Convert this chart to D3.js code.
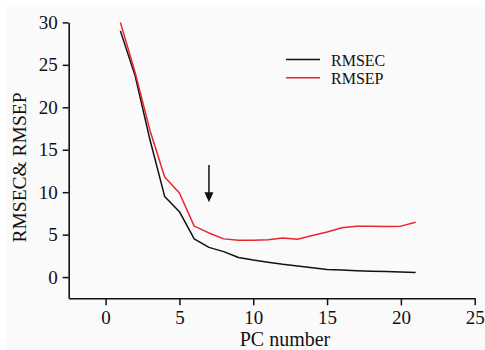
<!DOCTYPE html>
<html>
<head>
<meta charset="utf-8">
<script src="https://cdn.jsdelivr.net/npm/d3@7"></script>
<style>
  html, body { margin: 0; padding: 0; background: #ffffff; }
  svg { display: block; }
  svg text { font-family: "Liberation Serif", "Times New Roman", serif; fill: #111; }
</style>
</head>
<body>
<svg id="chart" width="485" height="350"></svg>
<script>
// Number of principal components
const pcNumbers = [1, 2, 3, 4, 5, 6, 7, 8, 9, 10, 11, 12, 13, 14, 15, 16, 17, 18, 19, 20, 21];
// Calibration error
const rmsec = [29.0, 23.7, 16.2, 9.5, 7.7, 4.5, 3.5, 3.0, 2.3, 2.0, 1.75, 1.5, 1.3, 1.1, 0.9, 0.82, 0.75, 0.7, 0.65, 0.6, 0.55];
// Prediction error
const rmsep = [30.0, 24.1, 17.3, 11.8, 9.9, 6.0, 5.2, 4.5, 4.35, 4.35, 4.4, 4.6, 4.45, 4.9, 5.3, 5.8, 6.0, 6.0, 5.95, 6.0, 6.45];

const xTicks = [0, 5, 10, 15, 20, 25];
const yTicks = [0, 5, 10, 15, 20, 25, 30];
const seriesNames = ["RMSEC", "RMSEP"];
const seriesColors = ["#111111", "#e8262b"];
// Arrow pointing at the chosen number of components
const arrowPc = 7;
const arrowFrom = 13.2;
const arrowTo = 8.8;

const serif = "Liberation Serif, Times New Roman, serif";
const svg = d3.select("#chart");

// Panel background
svg.append("rect")
  .attr("x", 6).attr("y", 7)
  .attr("width", 479).attr("height", 343)
  .attr("fill", "#fafafa");

const x = d3.scaleLinear().domain([-2.5, 25]).range([68.7, 474.7]);
const y = d3.scaleLinear().domain([-2.5, 30]).range([298.3, 22.4]);

// Axes
const xAxis = svg.append("g")
  .attr("transform", `translate(0,${y(-2.5)})`)
  .call(d3.axisBottom(x).tickValues(xTicks).tickSize(7).tickPadding(5).tickSizeOuter(0));
const yAxis = svg.append("g")
  .attr("transform", `translate(${x(-2.5)},0)`)
  .call(d3.axisLeft(y).tickValues(yTicks).tickSize(6).tickPadding(5).tickSizeOuter(0));

[xAxis, yAxis].forEach(g => {
  g.attr("font-family", serif).attr("font-size", 19);
  g.select(".domain").attr("stroke", "#111").attr("stroke-width", 1.6);
  g.selectAll(".tick line").attr("stroke", "#111").attr("stroke-width", 1.5);
  g.selectAll(".tick text").attr("fill", "#111");
});

// Series lines
const seriesData = [rmsec, rmsep];
const line = d3.line()
  .x((d, i) => x(pcNumbers[i]))
  .y(d => y(d));

seriesData.forEach((vals, k) => {
  svg.append("path")
    .datum(vals)
    .attr("d", line)
    .attr("fill", "none")
    .attr("stroke", seriesColors[k])
    .attr("stroke-width", 1.5)
    .attr("stroke-linejoin", "round");
});

// Arrow annotation
const ax = x(arrowPc);
const headLen = 10;
svg.append("line")
  .attr("x1", ax).attr("x2", ax)
  .attr("y1", y(arrowFrom)).attr("y2", y(arrowTo) - headLen + 1)
  .attr("stroke", "#111").attr("stroke-width", 1.5);
svg.append("path")
  .attr("d", `M${ax - 4.5},${y(arrowTo) - headLen} L${ax + 4.5},${y(arrowTo) - headLen} L${ax},${y(arrowTo)} Z`)
  .attr("fill", "#111");

// Legend
const legend = svg.append("g");
seriesNames.forEach((name, k) => {
  const ly = 59.5 + k * 18.3;
  legend.append("line")
    .attr("x1", 286).attr("x2", 320)
    .attr("y1", ly).attr("y2", ly)
    .attr("stroke", seriesColors[k]).attr("stroke-width", 1.5);
  legend.append("text")
    .attr("x", 331).attr("y", ly + 6.5)
    .attr("font-size", 16)
    .text(name);
});

// Axis titles
svg.append("text")
  .attr("x", 285).attr("y", 346)
  .attr("text-anchor", "middle")
  .attr("font-size", 20)
  .text("PC number");

svg.append("text")
  .attr("transform", "translate(26,167.5) rotate(-90)")
  .attr("text-anchor", "middle")
  .attr("font-size", 19.5)
  .text("RMSEC& RMSEP");
</script>
</body>
</html>
